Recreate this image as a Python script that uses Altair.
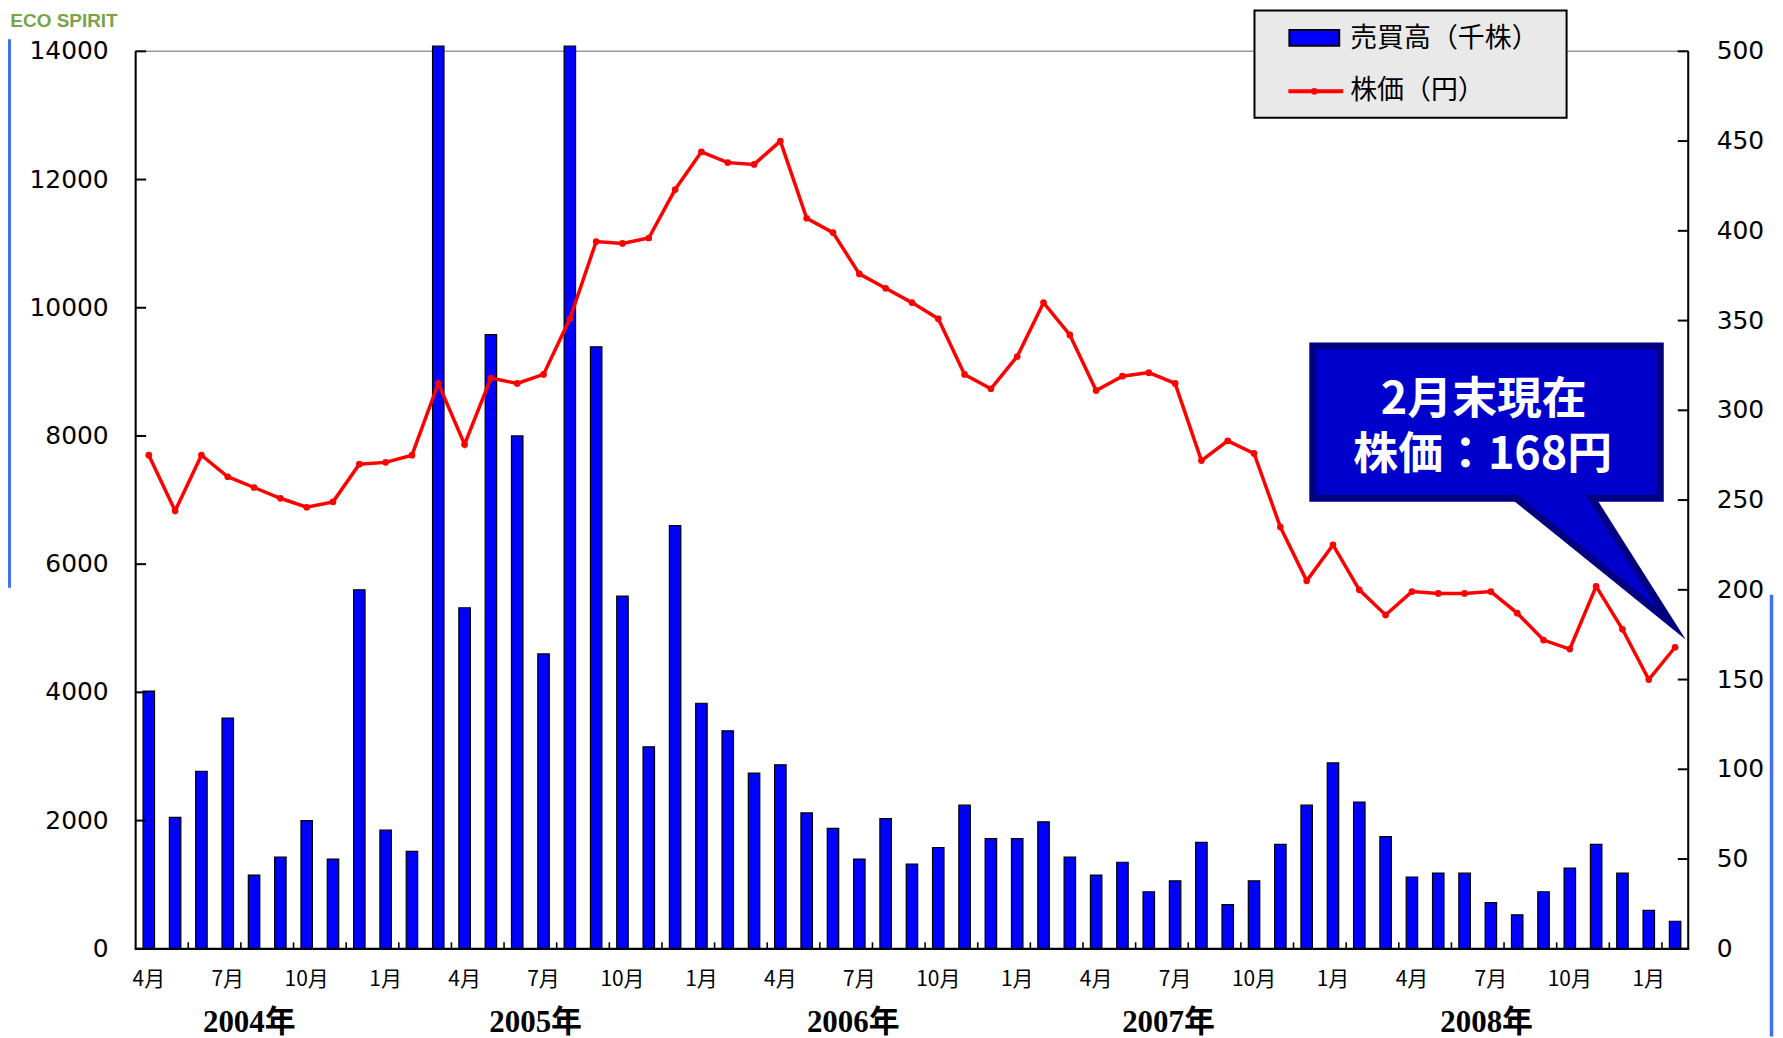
import altair as alt
import pandas as pd

# ---------------- data ----------------
N = 59  # April 2004 .. February 2009
month_labels = [f"{(3 + i) % 12 + 1}月" for i in range(N)]

volume = [4020, 2050, 2770, 3600, 1150, 1430, 2000, 1400, 5600, 1850, 1520, 14080,
          5320, 9580, 8000, 4600, 14080, 9390, 5500, 3150, 6600, 3830, 3400, 2740,
          2870, 2120, 1880, 1400, 2030, 1320, 1580, 2240, 1720, 1720, 1980, 1430,
          1150, 1350, 890, 1060, 1660, 690, 1060, 1630, 2240, 2900, 2290, 1750,
          1120, 1180, 1180, 720, 530, 890, 1260, 1630, 1180, 600, 430]

price = [275, 244, 275, 263, 257, 251, 246, 249, 270, 271, 275, 315,
         281, 318, 315, 320, 351, 394, 393, 396, 423, 444, 438, 437,
         450, 407, 399, 376, 368, 360, 351, 320, 312, 330, 360, 342,
         311, 319, 321, 315, 272, 283, 276, 235, 205, 225, 200, 186,
         199, 198, 198, 199, 187, 172, 167, 202, 178, 150, 168]

year_labels = ["2004年", "2005年", "2006年", "2007年", "2008年"]
year_anchor = [3.82, 14.70, 26.77, 38.75, 50.84]   # month index under which each year label sits

left_tick_values = list(range(0, 14001, 2000))
right_tick_values = list(range(0, 501, 50))
label_months = list(range(0, N, 3))
minor_tick_pos = [i + 0.5 for i in range(1, N - 1, 2)]

legend_labels = ["売買高（千株）", "株価（円）"]
callout_lines = ["2月末現在", "株価：168円"]

# ---------------- tables ----------------
df = pd.DataFrame({"idx": list(range(N)), "month": month_labels,
                   "volume": volume, "price": price})
years_df = pd.DataFrame({"idx": year_anchor, "label": year_labels})
lt_df = pd.DataFrame({"v": left_tick_values})
rt_df = pd.DataFrame({"v": right_tick_values})
mt_df = pd.DataFrame({"b": minor_tick_pos})
ml_df = pd.DataFrame({"idx": label_months, "label": [month_labels[i] for i in label_months]})

# callout geometry in data units (month index, yen)
box_outer = pd.DataFrame({"x": [44.10], "x2": [57.57], "y": [337.8], "y2": [249.1]})
box_inner = pd.DataFrame({"x": [44.37], "x2": [57.30], "y": [333.9], "y2": [252.9]})
ptr_outer = pd.DataFrame({"i": [51.74, 55.00, 58.41], "top": [251.1, 251.1, 172.2],
                          "bot": [251.1, 212.5, 172.2]})
ptr_inner = pd.DataFrame({"i": [51.79, 54.49, 57.33], "top": [255.6, 255.6, 189.9],
                          "bot": [255.6, 223.6, 189.9]})
callout_df = pd.DataFrame({"i": [50.73, 50.69], "p": [306.0, 275.0], "t": callout_lines})

one = pd.DataFrame({"a": [0]})

# ---------------- layout ----------------
W, H = 1557, 900
PAD = {"left": 128, "top": 42, "right": 87, "bottom": 88}

xscale = alt.Scale(domain=[-0.5, N - 0.5], nice=False, zero=False, padding=0)
vscale = alt.Scale(domain=[0, 14000], nice=False, zero=True, padding=0)
pscale = alt.Scale(domain=[0, 500], nice=False, zero=True, padding=0)

AX_FONT = "DejaVu Sans"
JP_FONT = "Noto Sans CJK JP"

# ---- volume side ----
bars = alt.Chart(df).mark_bar(size=11.5, fill="#0000FF", stroke="black", strokeWidth=1.2).encode(
    x=alt.X("idx:Q", scale=xscale, axis=None),
    y=alt.Y("volume:Q", scale=vscale, axis=None),
)
left_ticks = alt.Chart(lt_df).mark_rule(color="black", strokeWidth=2).encode(
    y=alt.Y("v:Q", scale=vscale, axis=None),
    x=alt.value(0), x2=alt.value(10.5),
)
left_labels = alt.Chart(lt_df).mark_text(font=AX_FONT, fontSize=25, color="black",
                                         align="right", baseline="middle").encode(
    y=alt.Y("v:Q", scale=vscale, axis=None),
    x=alt.value(-27),
    text=alt.Text("v:Q", format="d"),
)
bottom_ticks = alt.Chart(mt_df).mark_rule(color="black", strokeWidth=1.6).encode(
    x=alt.X("b:Q", scale=xscale, axis=None),
    y=alt.value(H), y2=alt.value(H - 6.5),
)
month_text = alt.Chart(ml_df).mark_text(font=JP_FONT, fontSize=21, color="black",
                                        align="center", baseline="middle").encode(
    x=alt.X("idx:Q", scale=xscale, axis=None),
    y=alt.value(H + 31),
    text="label:N",
)
year_text = alt.Chart(years_df).mark_text(
    font="Liberation Serif, Noto Sans CJK JP", fontSize=31, fontWeight="bold",
    color="black", align="center", baseline="middle").encode(
    x=alt.X("idx:Q", scale=xscale, axis=None),
    y=alt.value(H + 74),
    text="label:N",
)

left_group = alt.layer(bars, left_ticks, left_labels, bottom_ticks, month_text, year_text)

# ---- price side ----
NAVY = "#000080"
BOXBLUE = "#0000CC"

p_outer = alt.Chart(ptr_outer).mark_area(color=NAVY, interpolate="linear").encode(
    x=alt.X("i:Q", scale=xscale, axis=None),
    y=alt.Y("top:Q", scale=pscale, axis=None), y2="bot:Q",
)
b_outer = alt.Chart(box_outer).mark_rect(color=NAVY).encode(
    x=alt.X("x:Q", scale=xscale, axis=None), x2="x2:Q",
    y=alt.Y("y:Q", scale=pscale, axis=None), y2="y2:Q",
)
b_inner = alt.Chart(box_inner).mark_rect(color=BOXBLUE).encode(
    x=alt.X("x:Q", scale=xscale, axis=None), x2="x2:Q",
    y=alt.Y("y:Q", scale=pscale, axis=None), y2="y2:Q",
)
p_inner = alt.Chart(ptr_inner).mark_area(color=BOXBLUE, interpolate="linear").encode(
    x=alt.X("i:Q", scale=xscale, axis=None),
    y=alt.Y("top:Q", scale=pscale, axis=None), y2="bot:Q",
)
c_text = alt.Chart(callout_df).mark_text(
    font=JP_FONT, fontSize=45, fontWeight="bold", color="white",
    align="center", baseline="middle").encode(
    x=alt.X("i:Q", scale=xscale, axis=None),
    y=alt.Y("p:Q", scale=pscale, axis=None),
    text="t:N",
)
line = alt.Chart(df).mark_line(color="#FF0000", strokeWidth=3.5).encode(
    x=alt.X("idx:Q", scale=xscale, axis=None),
    y=alt.Y("price:Q", scale=pscale, axis=None),
)
pts = alt.Chart(df).mark_point(filled=True, color="#FF0000", size=45, opacity=1).encode(
    x=alt.X("idx:Q", scale=xscale, axis=None),
    y=alt.Y("price:Q", scale=pscale, axis=None),
)
right_ticks = alt.Chart(rt_df).mark_rule(color="black", strokeWidth=2).encode(
    y=alt.Y("v:Q", scale=pscale, axis=None),
    x=alt.value(W - 10.5), x2=alt.value(W),
)
right_labels = alt.Chart(rt_df).mark_text(font=AX_FONT, fontSize=25, color="black",
                                          align="left", baseline="middle").encode(
    y=alt.Y("v:Q", scale=pscale, axis=None),
    x=alt.value(W + 28.5),
    text=alt.Text("v:Q", format="d"),
)

right_group = alt.layer(p_outer, b_outer, b_inner, p_inner, c_text, line, pts,
                        right_ticks, right_labels)

# ---- axis lines, legend, page furniture ----
dom_left = alt.Chart(one).mark_rule(color="black", strokeWidth=2).encode(
    x=alt.value(0), y=alt.value(0), y2=alt.value(H))
dom_right = alt.Chart(one).mark_rule(color="black", strokeWidth=2).encode(
    x=alt.value(W), y=alt.value(0), y2=alt.value(H))
dom_bottom = alt.Chart(one).mark_rule(color="black", strokeWidth=2.2).encode(
    x=alt.value(-1), x2=alt.value(W + 1), y=alt.value(H))

leg_box = alt.Chart(one).mark_rect(fill="#E9E9E9", stroke="black", strokeWidth=2).encode(
    x=alt.value(1122), x2=alt.value(1435), y=alt.value(-41), y2=alt.value(66.5))
leg_sw = alt.Chart(one).mark_rect(fill="#0000FF", stroke="black", strokeWidth=2).encode(
    x=alt.value(1157), x2=alt.value(1207), y=alt.value(-21.5), y2=alt.value(-5.5))
leg_t1 = alt.Chart(one).mark_text(font=JP_FONT, fontSize=27, color="black",
                                  align="left", baseline="middle").encode(
    x=alt.value(1218), y=alt.value(-12), text=alt.value(legend_labels[0]))
leg_ln = alt.Chart(one).mark_rule(color="#FF0000", strokeWidth=4).encode(
    x=alt.value(1156), x2=alt.value(1211), y=alt.value(40))
leg_pt = alt.Chart(one).mark_point(filled=True, color="#FF0000", size=45, opacity=1).encode(
    x=alt.value(1182), y=alt.value(40))
leg_t2 = alt.Chart(one).mark_text(font=JP_FONT, fontSize=27, color="black",
                                  align="left", baseline="middle").encode(
    x=alt.value(1218), y=alt.value(40), text=alt.value(legend_labels[1]))

eco = alt.Chart(one).mark_text(font="Liberation Sans", fontSize=19, fontWeight="bold",
                               color="#77A446", align="right", baseline="middle").encode(
    x=alt.value(-18), y=alt.value(-30), text=alt.value("ECO SPIRIT"))
blue_l = alt.Chart(one).mark_rule(color="#4070F4", strokeWidth=4).encode(
    x=alt.value(-127), y=alt.value(-12), y2=alt.value(538))
blue_r = alt.Chart(one).mark_rule(color="#4070F4", strokeWidth=3.5).encode(
    x=alt.value(1640.5), y=alt.value(545), y2=alt.value(H + PAD["bottom"]))

chart = alt.layer(
    left_group, right_group, dom_left, dom_right, dom_bottom,
    leg_box, leg_sw, leg_t1, leg_ln, leg_pt, leg_t2, eco, blue_l, blue_r,
).resolve_scale(y="independent").properties(
    width=W, height=H, padding=PAD,
    autosize=alt.AutoSizeParams(type="none"),
    background="white",
).configure_view(stroke="#999999", strokeWidth=1.5)

chart.save("out.html", embed_options={"renderer": "svg", "actions": False})
